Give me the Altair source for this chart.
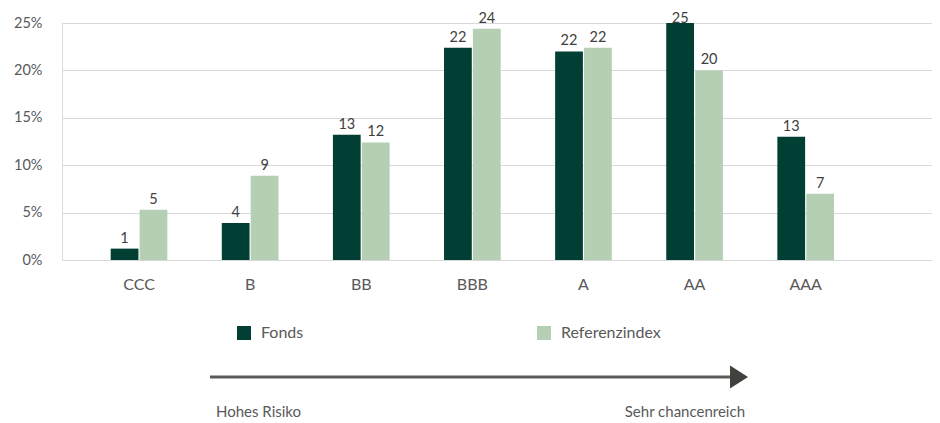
import altair as alt
import pandas as pd

ratings = ["CCC", "B", "BB", "BBB", "A", "AA", "AAA"]
fonds = [1.2, 3.9, 13.2, 22.4, 22.0, 25.0, 13.0]
referenz = [5.3, 8.9, 12.4, 24.4, 22.4, 20.0, 7.0]
series = ["Fonds", "Referenzindex"]
colors = ["#013E33", "#B4CFB4"]
arrow_labels = ["Hohes Risiko", "Sehr chancenreich"]

rows = []
for r, f, v in zip(ratings, fonds, referenz):
    rows.append({"rating": r, "series": series[0], "value": f})
    rows.append({"rating": r, "series": series[1], "value": v})
df = pd.DataFrame(rows)

FONT = "Lato"
TXT = "#595959"

x_enc = alt.X("rating:N", sort=ratings, title=None,
              scale=alt.Scale(paddingInner=0.49, paddingOuter=0.66, align=0.332),
              axis=alt.Axis(labelAngle=0, ticks=False, domain=False, labelPadding=16,
                            labelFontSize=16, labelColor=TXT, labelFont=FONT, grid=False))
xo_enc = alt.XOffset("series:N", sort=series, scale=alt.Scale(paddingInner=0.04))
y_enc = alt.Y("value:Q", title=None,
              scale=alt.Scale(domain=[0, 25], nice=False),
              axis=alt.Axis(values=[0, 5, 10, 15, 20, 25], labelExpr="datum.value + '%'",
                            ticks=False, domain=False, labelPadding=20, labelFontSize=14.5,
                            labelColor=TXT, labelFont=FONT, grid=True, gridColor="#D9D9D9",
                            gridWidth=1))

base = alt.Chart(df)
bars = base.mark_bar().encode(
    x=x_enc, xOffset=xo_enc, y=y_enc,
    color=alt.Color("series:N", sort=series, scale=alt.Scale(domain=series, range=colors),
                    legend=alt.Legend(title=None, orient="none", legendX=174, legendY=302,
                                      direction="horizontal", symbolType="square",
                                      symbolSize=196, symbolStrokeWidth=0,
                                      labelFontSize=16, labelColor=TXT, labelFont=FONT,
                                      columnPadding=232, labelOffset=9)),
)
labels = base.transform_calculate(
    ly="min(datum.value, 24.4)"
).mark_text(baseline="alphabetic", dy=-6, fontSize=14.5, color="#404040", font=FONT).encode(
    x=alt.X("rating:N", sort=ratings), xOffset=alt.XOffset("series:N", sort=series),
    y=alt.Y("ly:Q"), text=alt.Text("value:Q", format=".0f"),
)

arrow_line = alt.Chart(pd.DataFrame({"a": [0]})).mark_rule(color="#5A5C57", strokeWidth=3).encode(
    x=alt.value(148), x2=alt.value(672), y=alt.value(354)
)
arrow_head = alt.Chart(pd.DataFrame({"a": [0]})).mark_point(
    shape="M-1,-1.28L1,0L-1,1.28Z", filled=True, size=324, color="#3F423D", opacity=1
).encode(x=alt.value(677), y=alt.value(354))

arrow_text_left = alt.Chart(pd.DataFrame({"t": [arrow_labels[0]]})).mark_text(
    align="left", baseline="middle", fontSize=15, color=TXT, font=FONT
).encode(x=alt.value(154), y=alt.value(389), text="t:N")
arrow_text_right = alt.Chart(pd.DataFrame({"t": [arrow_labels[1]]})).mark_text(
    align="right", baseline="middle", fontSize=15, color=TXT, font=FONT
).encode(x=alt.value(683), y=alt.value(389), text="t:N")

chart = alt.layer(bars, labels, arrow_line, arrow_head, arrow_text_left, arrow_text_right).properties(
    width=870, height=237,
    autosize=alt.AutoSizeParams(type="none"),
    padding={"left": 54, "top": 15, "right": 0, "bottom": 163},
).configure_view(stroke=None).configure(font=FONT)

chart.save("out.html", embed_options={"renderer": "svg", "actions": False})
